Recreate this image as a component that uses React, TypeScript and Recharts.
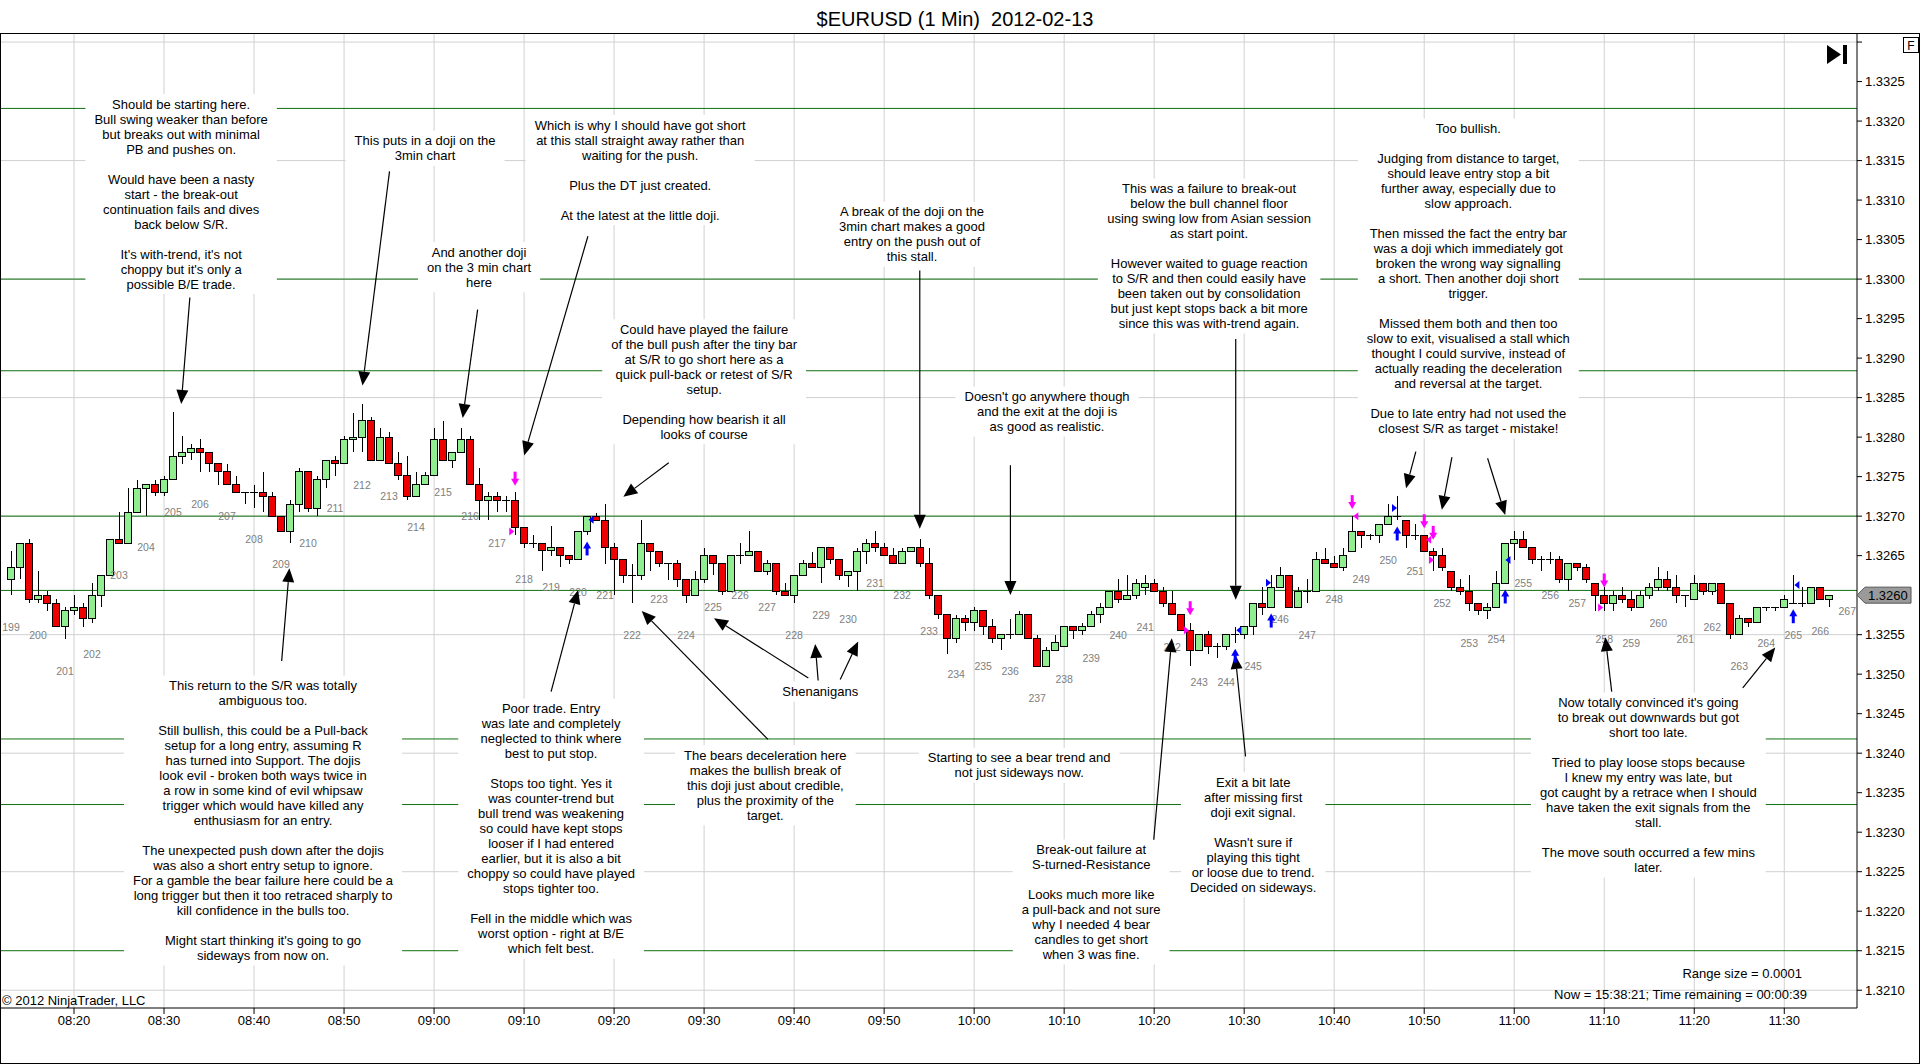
import React from "react";
import {
    ComposedChart,
    Bar,
    Scatter,
    XAxis,
    YAxis,
    CartesianGrid,
    ReferenceLine,
} from "recharts";

const FONT = "'Liberation Sans', Arial, sans-serif";
const UP = "#90ee90";
const DOWN = "#ee0000";
const SR = "#107010";

// 1 minute candles, first one printed at 08:13
const FIRST_BAR_TIME = "08:13";
const timeLabels = [
    "08:20", "08:30", "08:40", "08:50", "09:00", "09:10", "09:20", "09:30", "09:40", "09:50",
    "10:00", "10:10", "10:20", "10:30", "10:40", "10:50", "11:00", "11:10", "11:20", "11:30",
];

const opens = [
    1.3262, 1.32635, 1.32666, 1.32595, 1.326, 1.3259, 1.3256, 1.3258, 1.32585, 1.3257,
    1.326, 1.32625, 1.3267, 1.32666, 1.32705, 1.32735, 1.3274, 1.3273, 1.32746, 1.32776,
    1.32781, 1.32786, 1.32781, 1.32766, 1.32756, 1.3274, 1.3273, 1.3273, 1.3273, 1.32725,
    1.327, 1.32681, 1.32715, 1.32756, 1.3271, 1.32746, 1.32771, 1.32766, 1.32797, 1.328,
    1.32821, 1.32771, 1.328, 1.32766, 1.32751, 1.32725, 1.3274, 1.32751, 1.32797, 1.32771,
    1.32781, 1.32797, 1.3274, 1.3272, 1.32725, 1.3272, 1.3272, 1.32686, 1.32666, 1.32666,
    1.32656, 1.3266, 1.3265, 1.32645, 1.32681, 1.327, 1.32695, 1.3266, 1.32645, 1.32625,
    1.32625, 1.32666, 1.32655, 1.3264, 1.3264, 1.3262, 1.326, 1.3262, 1.3265, 1.3264,
    1.32605, 1.3265, 1.3265, 1.32655, 1.3263, 1.3264, 1.32605, 1.326, 1.32625, 1.3264,
    1.32635, 1.3266, 1.32645, 1.32625, 1.3263, 1.32655, 1.32666, 1.3266, 1.3265, 1.3264,
    1.32655, 1.3266, 1.3264, 1.326, 1.32575, 1.32545, 1.3257, 1.32565, 1.3258, 1.3256,
    1.32545, 1.3255, 1.3255, 1.32575, 1.32545, 1.3251, 1.3253, 1.32535, 1.3256, 1.32555,
    1.3256, 1.32575, 1.32585, 1.32605, 1.32595, 1.326, 1.3261, 1.32615, 1.32605, 1.3259,
    1.32575, 1.32555, 1.3253, 1.3255, 1.32535, 1.32535, 1.3255, 1.3255, 1.3256, 1.3259,
    1.32585, 1.3261, 1.32625, 1.32585, 1.32605, 1.32605, 1.32645, 1.3264, 1.32635, 1.32655,
    1.3268, 1.32675, 1.32675, 1.3269, 1.327, 1.32695, 1.32676, 1.32675, 1.32655, 1.3265,
    1.3263, 1.3261, 1.32605, 1.3259, 1.3258, 1.32585, 1.32615, 1.32666, 1.32671, 1.3266,
    1.32645, 1.32645, 1.32645, 1.3262, 1.3264, 1.32635, 1.32615, 1.326, 1.3259, 1.326,
    1.32595, 1.32585, 1.326, 1.3261, 1.3262, 1.3261, 1.326, 1.32595, 1.32615, 1.32605,
    1.32615, 1.3259, 1.3255, 1.3257, 1.32565, 1.32585, 1.32585, 1.32585, 1.3259, 1.3259,
    1.3259, 1.3261, 1.32595,
];

const highs = [
    1.32656, 1.32666, 1.32671, 1.3263, 1.32605, 1.32595, 1.32585, 1.326, 1.3259, 1.32615,
    1.32625, 1.3267, 1.32705, 1.32735, 1.32746, 1.3274, 1.32746, 1.32751, 1.32832, 1.32801,
    1.32791, 1.32797, 1.32781, 1.32766, 1.32766, 1.32751, 1.3273, 1.3274, 1.32756, 1.3273,
    1.327, 1.3272, 1.32761, 1.32756, 1.32751, 1.32771, 1.32776, 1.32801, 1.32831, 1.32842,
    1.32826, 1.32811, 1.32806, 1.32781, 1.32776, 1.32756, 1.32756, 1.32811, 1.32821, 1.32781,
    1.32811, 1.32801, 1.32761, 1.3273, 1.3273, 1.32725, 1.3273, 1.32686, 1.32676, 1.32666,
    1.32687, 1.3266, 1.3265, 1.32681, 1.327, 1.32704, 1.32715, 1.32666, 1.32645, 1.3264,
    1.32695, 1.32666, 1.32655, 1.3264, 1.32645, 1.3262, 1.3263, 1.3266, 1.3265, 1.3264,
    1.3265, 1.32666, 1.32681, 1.32655, 1.32645, 1.3264, 1.32615, 1.32625, 1.32645, 1.32655,
    1.3266, 1.3266, 1.32645, 1.3263, 1.3266, 1.32671, 1.32681, 1.32666, 1.3266, 1.3266,
    1.3266, 1.32671, 1.3266, 1.326, 1.32575, 1.32575, 1.32575, 1.32585, 1.3258, 1.3257,
    1.3255, 1.3257, 1.3258, 1.32575, 1.3255, 1.32535, 1.3255, 1.3256, 1.3256, 1.32565,
    1.3258, 1.3259, 1.32605, 1.3262, 1.32625, 1.3262, 1.32625, 1.3262, 1.3261, 1.32605,
    1.32575, 1.32565, 1.3255, 1.32555, 1.3254, 1.3255, 1.3256, 1.3256, 1.3259, 1.3261,
    1.32625, 1.32635, 1.32625, 1.3261, 1.3262, 1.32655, 1.3266, 1.3265, 1.3266, 1.327,
    1.3268, 1.32677, 1.3269, 1.32715, 1.32725, 1.32695, 1.3269, 1.32675, 1.3266, 1.3266,
    1.3263, 1.3262, 1.32625, 1.3259, 1.3259, 1.3263, 1.32666, 1.32681, 1.32681, 1.3266,
    1.3265, 1.32655, 1.3265, 1.3264, 1.3264, 1.3264, 1.32615, 1.3261, 1.32605, 1.3261,
    1.32605, 1.32605, 1.32615, 1.32635, 1.3263, 1.32625, 1.326, 1.32625, 1.32615, 1.32615,
    1.32615, 1.3259, 1.32575, 1.3257, 1.32585, 1.32585, 1.32585, 1.326, 1.32625, 1.3261,
    1.3261, 1.3261, 1.326,
];

const lows = [
    1.326, 1.3262, 1.3259, 1.3259, 1.3258, 1.3256, 1.32545, 1.32575, 1.3256, 1.32565,
    1.32585, 1.32625, 1.32666, 1.32666, 1.32705, 1.327, 1.32725, 1.32725, 1.32746, 1.32766,
    1.32771, 1.32756, 1.32756, 1.3274, 1.3274, 1.3273, 1.32715, 1.3271, 1.32705, 1.327,
    1.32681, 1.32666, 1.32705, 1.32705, 1.327, 1.32736, 1.32751, 1.32766, 1.32781, 1.32781,
    1.32771, 1.32771, 1.32766, 1.32746, 1.3272, 1.32725, 1.3274, 1.32751, 1.32771, 1.32761,
    1.32781, 1.3274, 1.32695, 1.32695, 1.32705, 1.32705, 1.32676, 1.3266, 1.3266, 1.3263,
    1.3265, 1.32635, 1.3264, 1.32645, 1.32676, 1.32695, 1.3264, 1.326, 1.32615, 1.3259,
    1.32619, 1.3263, 1.32635, 1.32619, 1.3261, 1.3259, 1.326, 1.32615, 1.32625, 1.326,
    1.32605, 1.3264, 1.3265, 1.3263, 1.32625, 1.326, 1.326, 1.3259, 1.32625, 1.32635,
    1.32615, 1.3264, 1.32619, 1.3261, 1.32605, 1.3264, 1.32655, 1.3265, 1.3264, 1.3264,
    1.32655, 1.32635, 1.32595, 1.3257, 1.32525, 1.3254, 1.32555, 1.32555, 1.3255, 1.3254,
    1.3253, 1.32545, 1.3255, 1.32545, 1.3251, 1.3251, 1.3253, 1.32535, 1.32545, 1.3255,
    1.3256, 1.32565, 1.32585, 1.3259, 1.32595, 1.32595, 1.326, 1.32605, 1.32585, 1.32575,
    1.32555, 1.3251, 1.3253, 1.32525, 1.3252, 1.3253, 1.3254, 1.32545, 1.3255, 1.32575,
    1.32585, 1.3261, 1.32585, 1.32585, 1.3259, 1.32605, 1.3264, 1.32635, 1.3263, 1.32655,
    1.3266, 1.3267, 1.32666, 1.3269, 1.32695, 1.3266, 1.3267, 1.32655, 1.3263, 1.3263,
    1.32605, 1.326, 1.3258, 1.32575, 1.3257, 1.32585, 1.32615, 1.32645, 1.3266, 1.3264,
    1.3263, 1.3264, 1.32615, 1.32605, 1.3263, 1.32615, 1.3258, 1.3258, 1.3258, 1.3259,
    1.3258, 1.32585, 1.32595, 1.32605, 1.32605, 1.3259, 1.32585, 1.32595, 1.326, 1.326,
    1.3259, 1.32545, 1.3255, 1.3256, 1.32565, 1.3258, 1.3258, 1.32585, 1.3259, 1.32585,
    1.3259, 1.32595, 1.32585,
];

const closes = [
    1.32635, 1.32666, 1.32595, 1.326, 1.3259, 1.3256, 1.3258, 1.32585, 1.3257, 1.326,
    1.32625, 1.3267, 1.32666, 1.32705, 1.32735, 1.3274, 1.3273, 1.32746, 1.32776, 1.32781,
    1.32786, 1.32781, 1.32766, 1.32756, 1.3274, 1.3273, 1.3273, 1.3273, 1.32725, 1.327,
    1.32681, 1.32715, 1.32756, 1.3271, 1.32746, 1.32771, 1.32766, 1.32797, 1.328, 1.32821,
    1.32771, 1.328, 1.32766, 1.32751, 1.32725, 1.3274, 1.32751, 1.32797, 1.32771, 1.32781,
    1.32797, 1.3274, 1.3272, 1.32725, 1.3272, 1.3272, 1.32686, 1.32666, 1.32666, 1.32656,
    1.3266, 1.3265, 1.32645, 1.32681, 1.327, 1.32695, 1.3266, 1.32645, 1.32625, 1.32625,
    1.32666, 1.32655, 1.3264, 1.3264, 1.3262, 1.326, 1.3262, 1.3265, 1.3264, 1.32605,
    1.3265, 1.3265, 1.32655, 1.3263, 1.3264, 1.32605, 1.326, 1.32625, 1.3264, 1.32635,
    1.3266, 1.32645, 1.32625, 1.3263, 1.32655, 1.32666, 1.3266, 1.3265, 1.3264, 1.32655,
    1.3266, 1.3264, 1.326, 1.32575, 1.32545, 1.3257, 1.32565, 1.3258, 1.3256, 1.32545,
    1.3255, 1.3255, 1.32575, 1.32545, 1.3251, 1.3253, 1.3254, 1.3256, 1.32555, 1.3256,
    1.32575, 1.32585, 1.32605, 1.32595, 1.326, 1.32615, 1.32615, 1.32605, 1.3259, 1.32575,
    1.32555, 1.3253, 1.3255, 1.32535, 1.32535, 1.3255, 1.3255, 1.3256, 1.3259, 1.32585,
    1.3261, 1.32625, 1.32585, 1.32605, 1.32605, 1.32645, 1.3264, 1.32635, 1.3265, 1.3268,
    1.32675, 1.32675, 1.3269, 1.327, 1.327, 1.32676, 1.32676, 1.32655, 1.3265, 1.32635,
    1.3261, 1.32605, 1.3259, 1.3258, 1.32585, 1.32615, 1.32666, 1.32671, 1.3266, 1.32645,
    1.32645, 1.32645, 1.3262, 1.3264, 1.32635, 1.3262, 1.326, 1.3259, 1.326, 1.32595,
    1.32585, 1.326, 1.3261, 1.3262, 1.3261, 1.326, 1.326, 1.32615, 1.32605, 1.32615,
    1.3259, 1.3255, 1.3257, 1.32565, 1.32585, 1.32585, 1.32585, 1.32595, 1.3259, 1.3259,
    1.3261, 1.32595, 1.326,
];

// 3 minute bar counter printed under the 1 minute candles
const FIRST_3MIN_BAR = 199;
const barNumbers = [
    199, 200, 201, 202, 203, 204, 205, 206, 207, 208, 209, 210, 211, 212, 213, 214, 215, 216,
    217, 218, 219, 220, 221, 222, 223, 224, 225, 226, 227, 228, 229, 230, 231, 232, 233, 234,
    235, 236, 237, 238, 239, 240, 241, 242, 243, 244, 245, 246, 247, 248, 249, 250, 251, 252,
    253, 254, 255, 256, 257, 258, 259, 260, 261, 262, 263, 264, 265, 266, 267,
];
const barNumberPrices = [
    1.3256, 1.3255, 1.32504, 1.32525, 1.32625, 1.32661, 1.32705, 1.32715, 1.327, 1.32671,
    1.3264, 1.32666, 1.3271, 1.3274, 1.32725, 1.32686, 1.3273, 1.327, 1.32666, 1.3262,
    1.3261, 1.32604, 1.326, 1.3255, 1.32595, 1.3255, 1.32585, 1.326, 1.32585, 1.3255,
    1.32575, 1.3257, 1.32615, 1.326, 1.32555, 1.325, 1.3251, 1.32504, 1.3247, 1.32494,
    1.3252, 1.3255, 1.3256, 1.32535, 1.3249, 1.3249, 1.3251, 1.3257, 1.3255, 1.32595,
    1.3262, 1.32645, 1.3263, 1.3259, 1.3254, 1.32545, 1.32615, 1.326, 1.3259, 1.32545,
    1.3254, 1.32565, 1.32545, 1.3256, 1.3251, 1.3254, 1.3255, 1.32555, 1.3258,
];

const srLevels = [1.33216, 1.33, 1.32884, 1.327, 1.32606, 1.32418, 1.32335, 1.3215];
const yTicks = [
    1.321, 1.3215, 1.322, 1.3225, 1.323, 1.3235, 1.324, 1.3245, 1.325, 1.3255, 1.326, 1.3265,
    1.327, 1.3275, 1.328, 1.3285, 1.329, 1.3295, 1.33, 1.3305, 1.331, 1.3315, 1.332, 1.3325, 1.333,
];
const gridPrices = [1.321, 1.3225, 1.324, 1.3255, 1.327, 1.3285, 1.33, 1.3315, 1.333];

// text notes drawn on the chart, anchored at bar / price of the first line
const notes = [
    { bar: 18.9, price: 1.332215, lines: ["Should be starting here.", "Bull swing weaker than before", "but breaks out with minimal", "PB and pushes on.", "", "Would have been a nasty", "start - the break-out", "continuation fails and dives", "back below S/R.", "", "It's with-trend, it's not", "choppy but it's only a", "possible B/E trade."] },
    { bar: 46.0, price: 1.33175, lines: ["This puts in a doji on the", "3min chart"] },
    { bar: 52.0, price: 1.33034, lines: ["And another doji", "on the 3 min chart", "here"] },
    { bar: 69.9, price: 1.33195, lines: ["Which is why I should have got short", "at this stall straight away rather than", "waiting for the push.", "", "Plus the DT just created.", "", "At the latest at the little doji."] },
    { bar: 77.0, price: 1.329365, lines: ["Could have played the failure", "of the bull push after the tiny bar", "at S/R to go short here as a", "quick pull-back or retest of S/R", "setup.", "", "Depending how bearish it all", "looks of course"] },
    { bar: 100.1, price: 1.330852, lines: ["A break of the doji on the", "3min chart makes a good", "entry on the push out of", "this stall."] },
    { bar: 115.1, price: 1.328513, lines: ["Doesn't go anywhere though", "and the exit at the doji is", "as good as realistic."] },
    { bar: 133.1, price: 1.331146, lines: ["This was a failure to break-out", "below the bull channel floor", "using swing low from Asian session", "as start point.", "", "However waited to guage reaction", "to S/R and then could easily have", "been taken out by consolidation", "but just kept stops back a bit more", "since this was with-trend again."] },
    { bar: 161.9, price: 1.331905, lines: ["Too bullish.", "", "Judging from distance to target,", "should leave entry stop a bit", "further away, especially due to", "slow approach.", "", "Then missed the fact the entry bar", "was a doji which immediately got", "broken the wrong way signalling", "a short. Then another doji short", "trigger.", "", "Missed them both and then too", "slow to exit, visualised a stall which", "thought I could survive, instead of", "actually reading the deceleration", "and reversal at the target.", "", "Due to late entry had not used the", "closest S/R as target - mistake!"] },
    { bar: 28.0, price: 1.324856, lines: ["This return to the S/R was totally", "ambiguous too.", "", "Still bullish, this could be a Pull-back", "setup for a long entry, assuming R", "has turned into Support. The dojis", "look evil - broken both ways twice in", "a row in some kind of evil whipsaw", "trigger which would have killed any", "enthusiasm for an entry.", "", "The unexpected push down after the dojis", "was also a short entry setup to ignore.", "For a gamble the bear failure here could be a", "long trigger but then it too retraced sharply to", "kill confidence in the bulls too.", "", "Might start thinking it's going to go", "sideways from now on."] },
    { bar: 60.0, price: 1.324562, lines: ["Poor trade. Entry", "was late and completely", "neglected to think where", "best to put stop.", "", "Stops too tight. Yes it", "was counter-trend but", "bull trend was weakening", "so could have kept stops", "looser if I had entered", "earlier, but it is also a bit", "choppy so could have played", "stops tighter too.", "", "Fell in the middle which was", "worst option - right at B/E", "which felt best."] },
    { bar: 83.8, price: 1.323973, lines: ["The bears deceleration here", "makes the bullish break of", "this doji just about credible,", "plus the proximity of the", "target."] },
    { bar: 89.9, price: 1.324779, lines: ["Shenanigans"] },
    { bar: 112.0, price: 1.323942, lines: ["Starting to see a bear trend and", "not just sideways now."] },
    { bar: 120.0, price: 1.322781, lines: ["Break-out failure at", "S-turned-Resistance", "", "Looks much more like", "a pull-back and not sure", "why I needed 4 bear", "candles to get short", "when 3 was fine."] },
    { bar: 138.0, price: 1.323633, lines: ["Exit a bit late", "after missing first", "doji exit signal.", "", "Wasn't sure if", "playing this tight", "or loose due to trend.", "Decided on sideways."] },
    { bar: 181.9, price: 1.32464, lines: ["Now totally convinced it's going", "to break out downwards but got", "short too late.", "", "Tried to play loose stops because", "I knew my entry was late, but", "got caught by a retrace when I should", "have taken the exit signals from the", "stall.", "", "The move south occurred a few mins", "later."] },
];

// hand drawn arrows: [bar, price] of tail and head
const arrows = [
    { from: [19.87, 1.329767], to: [18.91, 1.32842] },
    { from: [42.05, 1.331363], to: [39.05, 1.328652] },
    { from: [51.84, 1.329613], to: [50.18, 1.328243] },
    { from: [64.09, 1.330542], to: [57.01, 1.327769] },
    { from: [73.07, 1.327676], to: [68.03, 1.327245] },
    { from: [100.96, 1.330108], to: [100.96, 1.326839] },
    { from: [111.03, 1.327645], to: [111.03, 1.326003] },
    { from: [136.06, 1.329241], to: [136.06, 1.325941] },
    { from: [156.07, 1.327817], to: [154.98, 1.327354] },
    { from: [160.08, 1.327746], to: [158.96, 1.32708] },
    { from: [164.04, 1.327733], to: [166.0, 1.327016] },
    { from: [30.07, 1.325166], to: [30.93, 1.326342] },
    { from: [60.0, 1.324779], to: [63.0, 1.326065] },
    { from: [84.09, 1.324175], to: [70.07, 1.325801] },
    { from: [88.58, 1.32495], to: [78.1, 1.325709] },
    { from: [89.67, 1.324919], to: [89.34, 1.325383] },
    { from: [92.12, 1.324934], to: [94.12, 1.325414] },
    { from: [126.95, 1.322905], to: [128.96, 1.325456] },
    { from: [137.15, 1.323958], to: [136.0, 1.325242] },
    { from: [177.83, 1.324779], to: [177.11, 1.325468] },
    { from: [192.39, 1.324826], to: [196.0, 1.325337] },
];

// entry / exit signal markers
const MAG = "#ff00ff";
const BLUE = "#0000ff";
const markers = [
    { bar: 56, price: 1.327386, kind: "down", color: MAG },
    { bar: 55.63, price: 1.326805, kind: "right", color: MAG },
    { bar: 64, price: 1.32668, kind: "up", color: BLUE },
    { bar: 64.44, price: 1.326953, kind: "left", color: BLUE },
    { bar: 131, price: 1.325746, kind: "down", color: MAG },
    { bar: 130.6, price: 1.325555, kind: "right", color: MAG },
    { bar: 136, price: 1.325322, kind: "up", color: BLUE },
    { bar: 136.4, price: 1.325555, kind: "left", color: BLUE },
    { bar: 139.7, price: 1.326157, kind: "right", color: BLUE },
    { bar: 140, price: 1.325767, kind: "up", color: BLUE },
    { bar: 149, price: 1.327089, kind: "down", color: MAG },
    { bar: 149.4, price: 1.327, kind: "left", color: MAG },
    { bar: 153.7, price: 1.327102, kind: "right", color: BLUE },
    { bar: 154, price: 1.326869, kind: "up", color: BLUE },
    { bar: 157, price: 1.326847, kind: "down", color: MAG },
    { bar: 158, price: 1.3267, kind: "down", color: MAG },
    { bar: 157.5, price: 1.3267, kind: "left", color: MAG },
    { bar: 157.8, price: 1.326445, kind: "right", color: MAG },
    { bar: 166.3, price: 1.326445, kind: "left", color: BLUE },
    { bar: 166, price: 1.326072, kind: "up", color: BLUE },
    { bar: 177, price: 1.326097, kind: "down", color: MAG },
    { bar: 176.6, price: 1.325843, kind: "right", color: MAG },
    { bar: 198, price: 1.325822, kind: "up", color: BLUE },
    { bar: 198.4, price: 1.326127, kind: "left", color: BLUE },
];

const toMinutes = (t: string) => {
    const [h, m] = t.split(":").map(Number);
    return h * 60 + m;
};
const timeTicks = timeLabels.map((t) => toMinutes(t) - toMinutes(FIRST_BAR_TIME));
const lastClose = closes[closes.length - 1];

const candles = opens.map((o, k) => ({
    i: k,
    open: o,
    high: highs[k],
    low: lows[k],
    close: closes[k],
    range: [lows[k], highs[k]],
}));
const labelPoints = barNumbers.map((n, k) => ({
    i: (n - FIRST_3MIN_BAR) * 3,
    y: barNumberPrices[k],
    text: String(n),
}));
const notePoints = notes.map((n) => ({ i: n.bar, y: n.price, lines: n.lines }));
const markerPoints = markers.map((m) => ({ i: m.bar, y: m.price, kind: m.kind, color: m.color }));

let measureCtx: CanvasRenderingContext2D | null = null;
const measure = (s: string) => {
    if (!measureCtx) measureCtx = document.createElement("canvas").getContext("2d");
    if (!measureCtx) return s.length * 6.3;
    measureCtx.font = `13px ${FONT}`;
    return measureCtx.measureText(s).width;
};

const Candle = (props: any) => {
    const { x, y, width, height, payload } = props;
    if (!payload || height == null) return null;
    const cx = Math.round(x + width / 2);
    const { open, close, high, low } = payload;
    const toY = (v: number) => y + ((high - v) / (high - low)) * height;
    const top = toY(Math.max(open, close));
    const bot = toY(Math.min(open, close));
    return (
        <g shapeRendering="crispEdges">
            <line x1={cx} x2={cx} y1={y} y2={y + height} stroke="#000" />
            {open === close ? (
                <line x1={cx - 4} x2={cx + 4} y1={top} y2={top} stroke="#000" />
            ) : (
                <rect
                    x={cx - 3.5}
                    y={top}
                    width={7}
                    height={Math.max(bot - top, 1)}
                    fill={close > open ? UP : DOWN}
                    stroke="#000"
                />
            )}
        </g>
    );
};

const BarNumber = (props: any) => (
    <text
        x={props.cx}
        y={props.cy}
        textAnchor="middle"
        dominantBaseline="central"
        fontSize={10.5}
        fontFamily={FONT}
        fill="#808080"
    >
        {props.payload.text}
    </text>
);

const LINE_H = 15;
const Note = (props: any) => {
    const { cx, cy, payload } = props;
    const lines: string[] = payload.lines;
    const w = Math.max(...lines.map(measure)) + 18;
    const top = cy - 10;
    const h = (lines.length - 1) * LINE_H + 20;
    return (
        <g>
            <rect x={cx - w / 2} y={top} width={w} height={h} fill="#fff" />
            {lines.map((t, k) => (
                <text
                    key={k}
                    x={cx}
                    y={cy + k * LINE_H}
                    textAnchor="middle"
                    dominantBaseline="central"
                    fontSize={13}
                    fontFamily={FONT}
                    fill="#000"
                >
                    {t}
                </text>
            ))}
        </g>
    );
};

const Marker = (props: any) => {
    const { cx, cy, payload } = props;
    const c = payload.color;
    if (payload.kind === "down")
        return (
            <g>
                <rect x={cx - 1.5} y={cy - 14} width={3} height={8} fill={c} />
                <polygon points={`${cx - 4},${cy - 7} ${cx + 4},${cy - 7} ${cx},${cy}`} fill={c} />
            </g>
        );
    if (payload.kind === "up")
        return (
            <g>
                <rect x={cx - 1.5} y={cy + 6} width={3} height={8} fill={c} />
                <polygon points={`${cx - 4},${cy + 7} ${cx + 4},${cy + 7} ${cx},${cy}`} fill={c} />
            </g>
        );
    const d = payload.kind === "right" ? 1 : -1;
    return (
        <polygon
            points={`${cx - 2.5 * d},${cy - 4} ${cx + 2.5 * d},${cy} ${cx - 2.5 * d},${cy + 4}`}
            fill={c}
        />
    );
};

const Arrow = (props: any) => {
    const { x1, y1, x2, y2 } = props;
    if ([x1, y1, x2, y2].some((v) => v == null || isNaN(v))) return null;
    const len = Math.hypot(x2 - x1, y2 - y1) || 1;
    const ux = (x2 - x1) / len;
    const uy = (y2 - y1) / len;
    const hl = 14;
    const hw = 6;
    const bx = x2 - ux * hl;
    const by = y2 - uy * hl;
    return (
        <g>
            <line x1={x1} y1={y1} x2={bx} y2={by} stroke="#000" strokeWidth={1.2} />
            <polygon
                points={`${x2},${y2} ${bx - uy * hw},${by + ux * hw} ${bx + uy * hw},${by - ux * hw}`}
                fill="#000"
            />
        </g>
    );
};

// last price flag on the price axis
const PriceTag = (props: any) => {
    const { x1, x2, y1 } = props;
    if (x1 == null || x2 == null || y1 == null) return null;
    const x = Math.max(x1, x2);
    const y = y1;
    return (
        <g>
            <polygon
                points={`${x},${y} ${x + 8},${y - 8} ${x + 54},${y - 8} ${x + 54},${y + 8} ${x + 8},${y + 8}`}
                fill="#9a9a9a"
                stroke="#555"
            />
            <text x={x + 11} y={y} dominantBaseline="central" fontSize={13} fontFamily={FONT} fill="#000">
                {lastClose.toFixed(4)}
            </text>
        </g>
    );
};

export default function App() {
    return (
        <div
            style={{
                position: "absolute",
                left: 0,
                top: 0,
                width: 1920,
                height: 1064,
                background: "#fff",
                fontFamily: FONT,
                overflow: "hidden",
            }}
        >
            <div
                style={{
                    position: "absolute",
                    left: 0,
                    top: 8,
                    width: 1910,
                    textAlign: "center",
                    fontSize: 20,
                    lineHeight: "23px",
                    whiteSpace: "pre",
                    color: "#000",
                }}
            >
                {"$EURUSD (1 Min)  2012-02-13"}
            </div>
            <div style={{ position: "absolute", left: 0, top: 0 }}>
                <ComposedChart
                    width={1920}
                    height={1064}
                    data={candles}
                    margin={{ top: 34, right: 0, bottom: 0, left: 0 }}
                >
                    <CartesianGrid
                        stroke="#d0d0d0"
                        horizontalValues={gridPrices}
                        verticalValues={timeTicks}
                    />
                    {srLevels.map((lvl) => (
                        <ReferenceLine
                            key={lvl}
                            y={lvl}
                            stroke={SR}
                            strokeWidth={1}
                            ifOverflow="visible"
                            zIndex={-50}
                        />
                    ))}
                    <Scatter
                        data={notePoints}
                        dataKey="y"
                        shape={Note}
                        isAnimationActive={false}
                        zIndex={0}
                    />
                    <Bar
                        dataKey="range"
                        barSize={7}
                        shape={Candle}
                        isAnimationActive={false}
                        zIndex={300}
                    />
                    <Scatter
                        data={labelPoints}
                        dataKey="y"
                        shape={BarNumber}
                        isAnimationActive={false}
                        zIndex={600}
                    />
                    {arrows.map((a, k) => (
                        <ReferenceLine
                            key={`a${k}`}
                            segment={[
                                { x: a.from[0], y: a.from[1] },
                                { x: a.to[0], y: a.to[1] },
                            ]}
                            shape={Arrow}
                            ifOverflow="visible"
                            zIndex={700}
                        />
                    ))}
                    <Scatter
                        data={markerPoints}
                        dataKey="y"
                        shape={Marker}
                        isAnimationActive={false}
                        zIndex={800}
                    />
                    <XAxis
                        type="number"
                        dataKey="i"
                        domain={[-1.222, 205.08]}
                        allowDataOverflow
                        ticks={timeTicks}
                        tickFormatter={(v: number) => timeLabels[timeTicks.indexOf(v)] ?? ""}
                        height={56}
                        tickSize={6}
                        tickMargin={2}
                        axisLine={{ stroke: "#000" }}
                        tickLine={{ stroke: "#000" }}
                        tick={{ fill: "#000", fontSize: 13, fontFamily: FONT }}
                        interval={0}
                    />
                    <YAxis
                        type="number"
                        orientation="right"
                        domain={[1.320775, 1.333102]}
                        allowDataOverflow
                        ticks={yTicks}
                        tickFormatter={(v: number) =>
                            v > 1.3327 || Math.abs(v - lastClose) < 0.00002 ? "" : v.toFixed(4)
                        }
                        width={63}
                        tickSize={5}
                        tickMargin={3}
                        axisLine={{ stroke: "#000" }}
                        tickLine={{ stroke: "#000" }}
                        tick={{ fill: "#000", fontSize: 13, fontFamily: FONT }}
                        interval={0}
                    />
                    <ReferenceLine
                        y={lastClose}
                        stroke="none"
                        shape={PriceTag}
                        ifOverflow="visible"
                        zIndex={1000}
                    />
                </ComposedChart>
            </div>
            {/* frame round the chart panel */}
            <div
                style={{
                    position: "absolute",
                    left: 0,
                    top: 33,
                    width: 1920,
                    height: 1031,
                    border: "1px solid #000",
                    boxSizing: "border-box",
                    pointerEvents: "none",
                }}
            />
            <svg style={{ position: "absolute", left: 0, top: 0 }} width={1920} height={80}>
                <polygon points="1827,45 1841,54.5 1827,64" fill="#000" />
                <rect x={1843} y={45} width={4} height={19} fill="#000" />
                <rect x={1903.5} y={37.5} width={15} height={15} fill="#fff" stroke="#000" />
                <text x={1911} y={45.5} textAnchor="middle" dominantBaseline="central" fontSize={12} fontFamily={FONT}>
                    F
                </text>
            </svg>
            <div style={{ position: "absolute", left: 2, top: 993, fontSize: 13, lineHeight: "15px" }}>
                © 2012 NinjaTrader, LLC
            </div>
            <div style={{ position: "absolute", right: 118, top: 966, fontSize: 13, lineHeight: "15px" }}>
                Range size = 0.0001
            </div>
            <div style={{ position: "absolute", right: 113, top: 987, fontSize: 13, lineHeight: "15px" }}>
                Now = 15:38:21; Time remaining = 00:00:39
            </div>
        </div>
    );
}
